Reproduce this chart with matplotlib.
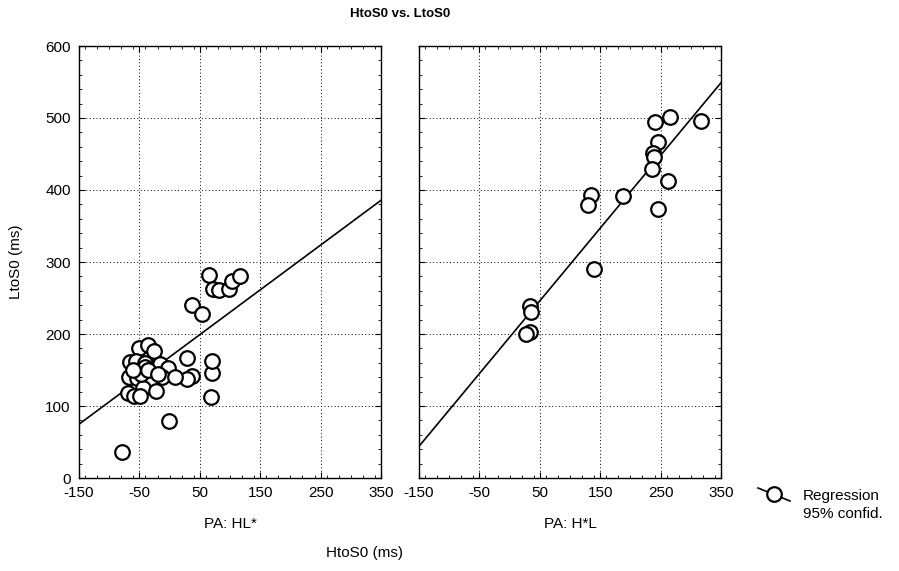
"""Scatter of HtoS0 vs. LtoS0 for two PA conditions, with regression lines."""
import matplotlib.pyplot as plt
import numpy as np
from matplotlib.lines import Line2D
from matplotlib.ticker import MultipleLocator

plt.rcParams['font.family'] = ['Liberation Sans', 'DejaVu Sans']
plt.rcParams['axes.unicode_minus'] = False

# PA: HL* condition
hl_x = [-79, -1, 68, 70, 71, 28, 37, 28, -50, -36, -26, -66, -56, -41, -41,
        -16, -3, -67, -54, -29, -13, 9, -44, -22, -69, -59, -49, 66, 72, 81,
        99, 104, 117, 37, 53, -47, -35, -20, -60]
hl_y = [36, 79, 112, 146, 162, 167, 142, 137, 181, 185, 176, 161, 162, 160,
        154, 158, 153, 140, 139, 135, 140, 140, 125, 121, 118, 114, 114, 282,
        262, 261, 263, 274, 280, 240, 228, 145, 150, 145, 150]

# PA: H*L condition
h_l_x = [240, 266, 317, 245, 238, 239, 235, 263, 134, 129, 187, 245, 140,
         33, 35, 34, 27]
h_l_y = [494, 502, 496, 466, 452, 446, 429, 412, 393, 379, 392, 374, 290,
         239, 231, 203, 200]

# regression (intercept, slope)
hl_fit = (168.0, 0.622)
h_l_fit = (195.5, 1.01)

panels = [
    ('PA: HL*', hl_x, hl_y, hl_fit),
    ('PA: H*L', h_l_x, h_l_y, h_l_fit),
]

fig = plt.figure(figsize=(8.99, 5.71), dpi=100)
W, H = 899, 571
lefts = [79, 419]

for i, (name, xs, ys, fit) in enumerate(panels):
    ax = fig.add_axes([lefts[i] / W, (H - 478) / H, 302 / W, 432 / H])
    ax.set_xlim(-150, 350)
    ax.set_ylim(0, 600)
    ax.xaxis.set_minor_locator(MultipleLocator(20))
    ax.yaxis.set_major_locator(MultipleLocator(100))
    ax.yaxis.set_minor_locator(MultipleLocator(20))
    ax.set_xticks([-150, -50, 50, 150, 250, 350])
    ax.grid(True, which='major', color='black', linestyle=(0, (1, 2.5)),
            linewidth=0.7)
    ax.tick_params(which='both', direction='in', top=True, right=True,
                   labelsize=11, color='black')
    ax.tick_params(which='major', length=4, pad=6)
    ax.tick_params(which='minor', length=2)
    for sp in ax.spines.values():
        sp.set_linewidth(1.0)

    line_x = np.array([-150, 350])
    ax.plot(line_x, fit[0] + fit[1] * line_x, color='black', lw=1.2,
            zorder=2)
    ax.plot(xs, ys, linestyle='none', marker='o', markersize=10.5,
            markerfacecolor='white', markeredgecolor='black',
            markeredgewidth=1.6, zorder=3, clip_on=False)
    ax.set_xlabel(name, fontsize=11, labelpad=12)
    if i == 0:
        ax.set_ylabel('LtoS0 (ms)', fontsize=11, labelpad=16)
    else:
        ax.set_yticklabels([])

fig.text(400 / W, 1 - 14 / H, 'HtoS0 vs. LtoS0', ha='center', va='center',
         fontsize=9.5, fontweight='bold')
fig.text(365 / W, 1 - 553 / H, 'HtoS0 (ms)', ha='center', va='center',
         fontsize=11)

# legend key
fig.add_artist(Line2D([758 / W, 790 / W], [1 - 488 / H, 1 - 501 / H],
                      color='black', lw=1.2, transform=fig.transFigure))
fig.add_artist(Line2D([774 / W], [1 - 494 / H], marker='o', markersize=10.5,
                      markerfacecolor='white', markeredgecolor='black',
                      markeredgewidth=1.6, transform=fig.transFigure))
fig.text(803 / W, 1 - 496 / H, 'Regression', ha='left', va='center',
         fontsize=11)
fig.text(803 / W, 1 - 514 / H, '95% confid.', ha='left', va='center',
         fontsize=11)

fig.savefig('out.png', dpi=100)
plt.close(fig)
